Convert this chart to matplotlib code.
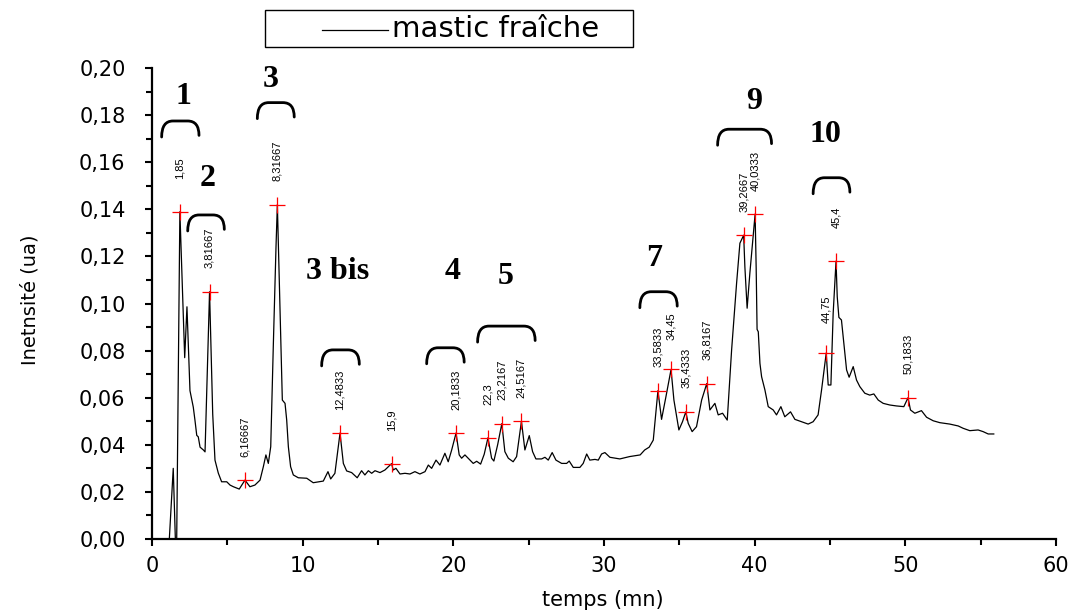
import numpy as np
import matplotlib
matplotlib.use("Agg")
import matplotlib.pyplot as plt
from matplotlib.path import Path
from matplotlib.patches import PathPatch, Rectangle
from matplotlib.lines import Line2D
from matplotlib.ticker import MultipleLocator, FuncFormatter

# chromatogram trace: retention time (mn), intensity (ua)
temps = [
    0.60, 1.15, 1.41, 1.55, 1.64, 1.85, 2.17, 2.32, 2.52, 2.74, 2.85, 2.97,
    3.07, 3.19, 3.41, 3.52, 3.82, 4.03, 4.18, 4.40, 4.62, 4.96, 5.18, 5.40,
    5.79, 6.17, 6.50, 6.83, 7.17, 7.39, 7.56, 7.72, 7.88, 8.05, 8.23, 8.32,
    8.45, 8.56, 8.65, 8.83, 8.94, 9.05, 9.20, 9.38, 9.71, 10.27, 10.70, 11.37,
    11.68, 11.86, 12.14, 12.48, 12.70, 12.92, 13.25, 13.62, 13.91, 14.13,
    14.36, 14.58, 14.80, 15.13, 15.46, 15.90, 16.01, 16.19, 16.46, 16.79,
    17.12, 17.45, 17.78, 18.12, 18.34, 18.56, 18.85, 19.11, 19.44, 19.66,
    19.89, 20.18, 20.39, 20.55, 20.77, 21.10, 21.32, 21.55, 21.81, 22.05,
    22.30, 22.54, 22.69, 22.94, 23.22, 23.42, 23.65, 23.97, 24.20, 24.52,
    24.75, 25.04, 25.26, 25.48, 25.86, 26.08, 26.30, 26.56, 26.81, 27.19,
    27.52, 27.69, 27.96, 28.40, 28.62, 28.85, 29.06, 29.40, 29.62, 29.84,
    30.06, 30.39, 31.05, 31.70, 32.40, 32.70, 33.00, 33.27, 33.58, 33.82,
    34.11, 34.45, 34.64, 34.97, 35.21, 35.43, 35.59, 35.85, 36.14, 36.48,
    36.82, 37.03, 37.36, 37.58, 37.87, 38.18, 38.47, 38.80, 39.02, 39.27,
    39.35, 39.50, 39.68, 40.03, 40.10, 40.16, 40.24, 40.35, 40.46, 40.68,
    40.90, 41.23, 41.45, 41.74, 42.00, 42.38, 42.67, 43.11, 43.55, 43.88,
    44.21, 44.44, 44.75, 44.88, 45.06, 45.21, 45.40, 45.48, 45.59, 45.76,
    45.94, 46.10, 46.27, 46.54, 46.76, 46.98, 47.31, 47.64, 47.91, 48.20,
    48.53, 48.97, 49.41, 49.90, 50.18, 50.34, 50.63, 51.07, 51.41, 51.85,
    52.29, 52.95, 53.51, 53.84, 54.28, 54.83, 55.16, 55.50, 55.87,
]
intensite = [
    0.000, 0.000, 0.030, 0.000, 0.000, 0.139, 0.077, 0.0986, 0.063, 0.056,
    0.0505, 0.044, 0.0434, 0.039, 0.0378, 0.037, 0.105, 0.053, 0.0335, 0.028,
    0.0243, 0.0243, 0.0229, 0.0222, 0.0212, 0.025, 0.0222, 0.0229, 0.025,
    0.0307, 0.0357, 0.0321, 0.0392, 0.0817, 0.124, 0.142, 0.110, 0.0817,
    0.059, 0.0576, 0.0505, 0.0392, 0.0307, 0.0272, 0.026, 0.0258, 0.0239,
    0.0246, 0.0286, 0.0255, 0.0279, 0.045, 0.0321, 0.0289, 0.0282, 0.026,
    0.029, 0.0272, 0.029, 0.0279, 0.029, 0.0282, 0.0293, 0.032, 0.0293,
    0.030, 0.0276, 0.0279, 0.0276, 0.0286, 0.0276, 0.0286, 0.0314, 0.030,
    0.0335, 0.0314, 0.0364, 0.0328, 0.0378, 0.045, 0.0357, 0.0343, 0.0357,
    0.0335, 0.0321, 0.033, 0.0318, 0.036, 0.043, 0.0343, 0.0331, 0.040,
    0.049, 0.0371, 0.0343, 0.0328, 0.035, 0.050, 0.0378, 0.0439, 0.0371,
    0.034, 0.034, 0.0347, 0.0335, 0.0367, 0.0335, 0.0321, 0.0321, 0.0331,
    0.0304, 0.0304, 0.0321, 0.0361, 0.0335, 0.0338, 0.0335, 0.0361, 0.0367,
    0.0347, 0.034, 0.035, 0.0357, 0.0378, 0.039, 0.042, 0.063, 0.0508,
    0.0604, 0.072, 0.059, 0.0463, 0.0498, 0.054, 0.0491, 0.0456, 0.0477,
    0.059, 0.066, 0.0548, 0.0576, 0.0527, 0.0534, 0.0505, 0.0803, 0.1086,
    0.1256, 0.129, 0.1156, 0.098, 0.1128, 0.138, 0.115, 0.089, 0.088,
    0.0746, 0.0689, 0.0633, 0.0562, 0.0548, 0.0527, 0.0562, 0.0519, 0.054,
    0.0508, 0.0498, 0.0488, 0.0498, 0.0527, 0.0633, 0.079, 0.0654, 0.0654,
    0.0958, 0.118, 0.1029, 0.0941, 0.093, 0.0817, 0.0718, 0.0687, 0.0732,
    0.0675, 0.0647, 0.0619, 0.0611, 0.0616, 0.059, 0.0576, 0.0569, 0.0565,
    0.0562, 0.060, 0.0548, 0.0534, 0.0545, 0.0517, 0.0502, 0.0494, 0.0488,
    0.048, 0.047, 0.046, 0.0463, 0.0456, 0.0446, 0.0446,
]

# detected peaks (red crosses) and their retention-time labels
pic_temps = [1.85, 3.81667, 6.16667, 8.31667, 12.4833, 15.9, 20.1833, 22.3,
             23.2167, 24.5167, 33.5833, 34.45, 35.4333, 36.8167, 39.2667,
             40.0333, 44.75, 45.4, 50.1833]
pic_hauteurs = [0.139, 0.105, 0.025, 0.142, 0.045, 0.032, 0.045, 0.043,
                0.049, 0.050, 0.063, 0.072, 0.054, 0.066, 0.129, 0.138,
                0.079, 0.118, 0.060]
pic_labels = ["1,85", "3,81667", "6,16667", "8,31667", "12,4833", "15,9",
              "20,1833", "22,3", "23,2167", "24,5167", "33,5833", "34,45",
              "35,4333", "36,8167", "39,2667", "40,0333", "44,75", "45,4",
              "50,1833"]

# peak groups: name, label position, bracket span (t0, t1) and bracket top
groupes = ["1", "2", "3", "3 bis", "4", "5", "7", "9", "10"]
groupe_xy = [(2.08, 0.188), (3.69, 0.153), (7.90, 0.195), (12.3, 0.1135),
             (19.93, 0.1135), (23.47, 0.1114), (33.33, 0.119), (39.95, 0.1857),
             (44.72, 0.1716)]
accolades = [(0.64, 3.12, 0.1775), (2.37, 4.80, 0.1376), (6.99, 9.44, 0.1853),
             (11.26, 13.76, 0.0803), (18.23, 20.72, 0.0812),
             (21.61, 25.43, 0.0904), (32.38, 34.86, 0.105),
             (37.54, 41.12, 0.174), (43.88, 46.32, 0.1534)]

SANS = ["Liberation Sans", "DejaVu Sans"]
WIDE = ["DejaVu Sans"]
SERIF = ["Liberation Serif", "DejaVu Serif"]


def accolade(ax, t0, t1, top, drop=0.0068, w=0.75):
    verts = [(t0, top - drop), (t0, top), (t0 + w, top), (t1 - w, top),
             (t1, top), (t1, top - drop * 0.9)]
    codes = [Path.MOVETO, Path.CURVE3, Path.CURVE3, Path.LINETO,
             Path.CURVE3, Path.CURVE3]
    ax.add_patch(PathPatch(Path(verts, codes), fill=False, lw=2.0,
                           edgecolor="black", capstyle="round", clip_on=False))


fig = plt.figure(figsize=(10.74, 6.14), dpi=100)
ax = fig.add_axes([152 / 1074, 75 / 614, 904 / 1074, 471 / 614])

ax.plot(temps, intensite, color="black", lw=0.9)
ax.plot(pic_temps, pic_hauteurs, "+", color="red", ms=11, mew=0.9)
for t, h, s in zip(pic_temps, pic_hauteurs, pic_labels):
    ax.text(t, h + 0.0185, s, rotation=90, ha="center", va="center",
            fontsize=8, family=SANS)

for name, (x, y) in zip(groupes, groupe_xy):
    ax.text(x, y, name, ha="center", va="center", fontsize=23,
            fontweight="bold", family=SERIF)
for t0, t1, top in accolades:
    accolade(ax, t0, t1, top)

ax.set_xlim(0, 60)
ax.set_ylim(0, 0.20)
ax.xaxis.set_major_locator(MultipleLocator(10))
ax.xaxis.set_minor_locator(MultipleLocator(5))
ax.yaxis.set_major_locator(MultipleLocator(0.02))
ax.yaxis.set_minor_locator(MultipleLocator(0.01))
ax.yaxis.set_major_formatter(FuncFormatter(lambda v, p: f"{v:.2f}".replace(".", ",")))
for s in ("top", "right"):
    ax.spines[s].set_visible(False)
for s in ("left", "bottom"):
    ax.spines[s].set_linewidth(1.6)
ax.tick_params(which="major", direction="out", length=5, width=1.5,
               labelsize=15)
ax.tick_params(axis="y", which="major", pad=14)
ax.tick_params(axis="x", which="major", pad=7)
ax.tick_params(which="minor", direction="out", length=4, width=1.5)
for lab in ax.get_xticklabels() + ax.get_yticklabels():
    lab.set_family(WIDE)

ax.set_xlabel("temps (mn)", fontsize=15, family=WIDE, va="center")
ax.xaxis.set_label_coords(0.499, -0.13)
ax.set_ylabel("Inetnsité (ua)", fontsize=14, family=WIDE, va="center")
ax.yaxis.set_label_coords(-0.135, 0.507)

# legend box above the plot
fig.add_artist(Rectangle((265 / 1074, 1 - 47 / 614), 368 / 1074, 37 / 614,
                         transform=fig.transFigure, fill=False,
                         edgecolor="black", lw=1.0))
fig.add_artist(Line2D([322 / 1074, 388 / 1074], [1 - 30 / 614, 1 - 30 / 614],
                      transform=fig.transFigure, color="black", lw=0.9))
fig.text(392 / 1074, 1 - 29 / 614, "mastic fraîche", fontsize=21,
         va="center", ha="left", family=WIDE)

fig.savefig("out.png", dpi=100)
